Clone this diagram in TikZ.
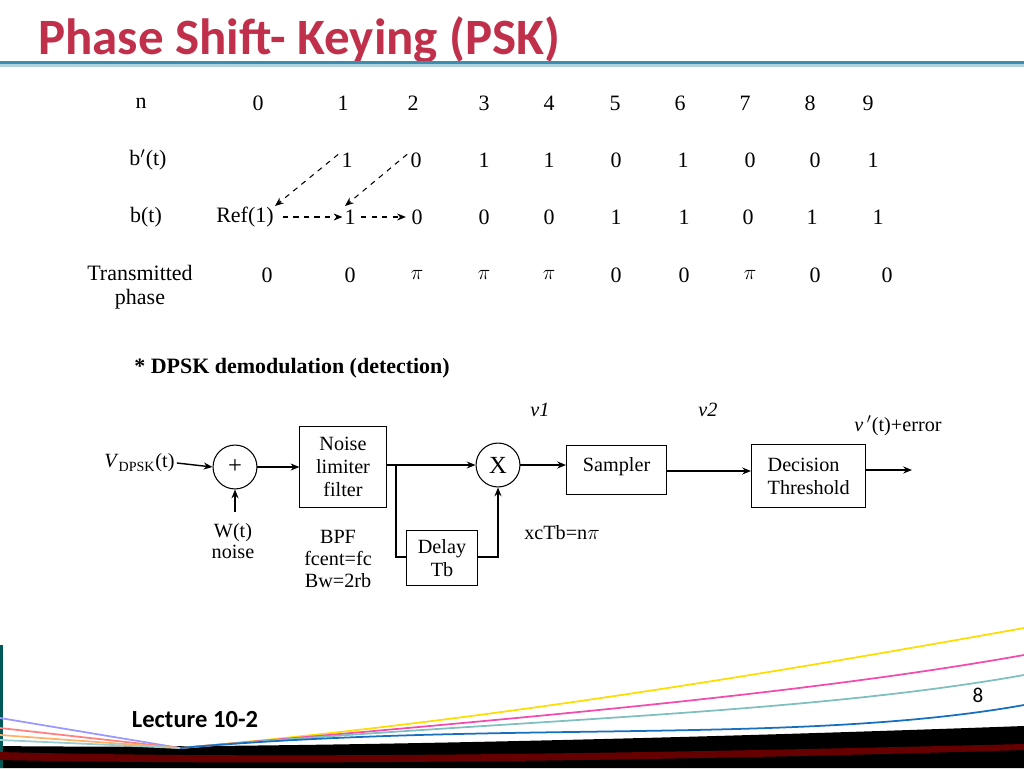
\documentclass[tikz,border=0pt]{standalone}
\usepackage{fontspec}
\setmainfont{Liberation Serif}
\newfontfamily\titlefont{Carlito}
\usetikzlibrary{arrows.meta}
\definecolor{titlered}{HTML}{C0304A}
\definecolor{rulecol}{HTML}{3A8FB0}
\begin{document}
\begin{tikzpicture}[x=0.02cm,y=-0.02cm,
  txt/.style={font=\fontsize{12.5}{14}\selectfont,inner sep=0pt},
  btxt/.style={font=\fontsize{11.5}{13}\selectfont,inner sep=0pt},
  blk/.style={draw,line width=0.6pt,align=center,inner sep=1pt,font=\fontsize{11.5}{13}\selectfont},
  sumc/.style={draw,circle,line width=0.6pt,minimum size=25pt,inner sep=0pt},
  arr/.style={-{Stealth[length=5pt,width=4pt]},line width=0.8pt},
  darr/.style={-{Stealth[length=5pt,width=4pt]},dashed,line width=0.6pt}]
\useasboundingbox (0,0) rectangle (1024,768);
% title
\node[anchor=west,inner sep=0pt,font=\titlefont\bfseries\fontsize{29}{32}\selectfont,text=titlered] (title) at (38,40) {Phase Shift- Keying (PSK)};
\fill[rulecol] (0,61) rectangle (1024,64);
\fill[rulecol!40] (0,64) rectangle (1024,67);
% table labels
\node[txt] (ln) at (141,103) {n};
\node[txt] (lbp) at (148,160) {b$'$(t)};
\node[txt] (lb) at (146,217) {b(t)};
\node[txt,align=center,font=\fontsize{12.5}{13.5}\selectfont] (lph) at (140,287) {Transmitted\\phase};
% n row
\foreach \x/\v [count=\i] in {258/0,343/1,413/2,484/3,549/4,615/5,680/6,745/7,810/8,868/9}
  \node[txt] (n\i) at (\x,103) {\v};
% b' row
\foreach \x/\v [count=\i] in {347/1,416/0,484/1,549/1,616/0,683/1,750/0,815/0,873/1}
  \node[txt] (bp\i) at (\x,160) {\v};
% b row
\node[txt] (ref) at (245,217) {Ref(1)};
\foreach \x/\v [count=\i] in {350/1,417/0,484/0,549/0,616/1,684/1,748/0,812/1,878/1}
  \node[txt] (b\i) at (\x,217) {\v};
% phase row
\foreach \x/\v [count=\i] in {267/0,350/0,417/$\pi$,484/$\pi$,549/$\pi$,616/0,684/0,750/$\pi$,815/0,887/0}
  \node[txt] (p\i) at (\x,275) {\v};
% dashed arrows
\draw[darr] (bp1.north west) ++(-3,2) coordinate (s1) -- (275,206);
\draw[darr] (bp2.north west) ++(-3,2) coordinate (s2) -- (345,206);
\draw[darr] ([xshift=5pt]ref.east) -- ([xshift=-1pt]b1.west);
\draw[darr] ([xshift=3pt]b1.east) -- ([xshift=-3pt]b2.west);
% heading
\node[anchor=west,inner sep=0pt,font=\bfseries\fontsize{12.5}{14}\selectfont] (head) at (134,368) {* DPSK demodulation (detection)};
% block diagram
\node[btxt,anchor=west] (vin) at (104,463) {\textit{V}\textsubscript{\fontsize{8}{9}\selectfont DPSK}(t)};
\node[sumc,font=\fontsize{14}{14}\selectfont] (add) at (235,467) {+};
\node[blk,minimum width=49pt,minimum height=46pt] (nlf) at (343,467) {Noise\\limiter\\filter};
\node[sumc,font=\fontsize{14}{14}\selectfont] (mul) at (498,465) {X};
\node[blk,minimum width=57pt,minimum height=28pt,anchor=north west] (samp) at (566,445) {\raisebox{6pt}{Sampler}};
\node[blk,minimum width=65pt,minimum height=36pt,align=left,anchor=north west] (dec) at (751,444) {Decision\\Threshold};
\node[blk,minimum width=40pt,minimum height=31pt] (dly) at (442,558) {Delay\\Tb};
\coordinate (outE) at (912,470);
\coordinate (wt) at (235,512);
\draw[arr] (vin.east) ++(2,0) -- (add.west);
\draw[arr] (add.east) -- (add.east -| nlf.west);
\draw[arr] (nlf.east |- mul) -- (mul.west);
\draw[line width=0.6pt] (396,465) -- (396,557) -- (dly.west |- 0,557);
\draw[arr] (dly.east |- 0,557) -| (mul.south);
\draw[arr] (mul.east) -- (mul.east -| samp.west);
\draw[arr] (samp.east |- 0,471) -- (dec.west |- 0,471);
\draw[arr] (dec.east |- 0,470) -- (outE);
\draw[arr] (wt) -- (add.south);
\node[btxt,align=center,font=\fontsize{11.5}{12}\selectfont] (wlab) at (233,541) {W(t)\\noise};
\node[btxt,align=center,font=\fontsize{11.5}{12.5}\selectfont] (bpf) at (338,559) {BPF\\fcent=fc\\Bw=2rb};
\node[btxt] (xc) at (562,533) {xcTb=n$\pi$};
\node[btxt,font=\itshape\fontsize{11.5}{12}\selectfont] (v1) at (540,410) {v1};
\node[btxt,font=\itshape\fontsize{11.5}{12}\selectfont] (v2) at (708,410) {v2};
\node[btxt] (vout) at (898,426) {\textit{v}$\,'$(t)+error};
% footer decoration
\fill[black] (0,768) -- (0,746) .. controls (150,748) and (500,745) .. (1024,726) -- (1024,768) -- cycle;
\fill[teal!70!black] (0,645) rectangle (3,768);
\foreach \c/\y in {yellow!80!orange/628,magenta!70/655,teal!50/675,cyan!50!blue/705}
  \draw[\c,line width=1pt] (180,748) .. controls (500,720) and (800,\y+40) .. (1024,\y);
\foreach \c/\y in {blue!40/718,red!50/728,orange!60/735,teal!40/740}
  \draw[\c,line width=1pt] (0,\y) -- (180,748);
\fill[red!40!black] (0,752) .. controls (300,760) and (700,752) .. (1024,744) -- (1024,750) .. controls (700,760) and (300,766) .. (0,760) -- cycle;
\node[inner sep=0pt,font=\titlefont\bfseries\fontsize{14}{16}\selectfont] (lec) at (195,720) {Lecture 10-2};
\node[inner sep=0pt,font=\titlefont\fontsize{12}{14}\selectfont] (pg) at (978,695) {8};
\end{tikzpicture}
\end{document}
